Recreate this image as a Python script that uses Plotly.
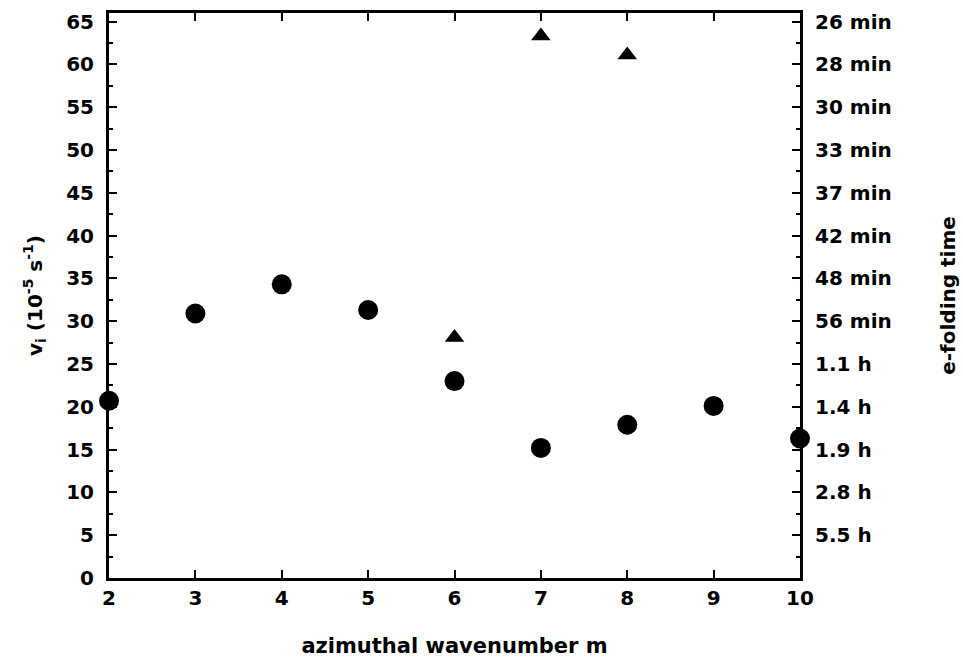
import plotly.graph_objects as go

m_circle = [2, 3, 4, 5, 6, 7, 8, 9, 10]
v_circle = [20.7, 30.9, 34.3, 31.3, 23.0, 15.2, 17.9, 20.1, 16.3]
m_tri = [6, 7, 8]
v_tri = [28.1, 63.3, 61.1]

left_ticks = list(range(0, 70, 5))
right_tickvals = [65, 60, 55, 50, 45, 40, 35, 30, 25, 20, 15, 10, 5]
right_ticktext = ["26 min", "28 min", "30 min", "33 min", "37 min", "42 min", "48 min",
                  "56 min", "1.1 h", "1.4 h", "1.9 h", "2.8 h", "5.5 h"]
x_ticks = list(range(2, 11))

FONT = "DejaVu Sans"
fig = go.Figure()
fig.add_trace(go.Scatter(x=m_circle, y=v_circle, mode="markers",
                         marker=dict(symbol="circle", size=20, color="black"),
                         cliponaxis=False, showlegend=False))
fig.add_trace(go.Scatter(x=m_tri, y=v_tri, mode="markers",
                         marker=dict(symbol="triangle-up", size=17, color="black"),
                         cliponaxis=False, showlegend=False))
fig.add_trace(go.Scatter(x=[None], y=[None], yaxis="y2", showlegend=False, hoverinfo="skip"))

axis_common = dict(showgrid=False, zeroline=False, showline=True, linecolor="black",
                   linewidth=3, ticks="inside", tickcolor="black", tickwidth=2,
                   automargin=False,
                   tickfont=dict(family=FONT, size=20, color="black", weight="bold"))

title_font = dict(family=FONT, size=20, color="black")

fig.update_layout(
    width=963, height=659,
    margin=dict(l=109, r=163, t=13, b=81),
    plot_bgcolor="white", paper_bgcolor="white",
    font=dict(family=FONT, color="black"),
    xaxis=dict(range=[2, 10], tickvals=x_ticks, ticklen=8, mirror="ticks",
               title=dict(text="<b>azimuthal wavenumber m</b>", font=dict(family=FONT, size=21, color="black"), standoff=30),
               **axis_common),
    yaxis=dict(range=[0, 66], tickvals=left_ticks, ticklen=8, ticklabelstandoff=8,
               minor=dict(ticks="inside", dtick=2.5, ticklen=4, tickcolor="black", tickwidth=2),
               title=dict(text="<b>v<sub>i</sub> (10<sup>-5</sup> s<sup>-1</sup>)</b>", font=title_font, standoff=19),
               **axis_common),
    yaxis2=dict(range=[0, 66], overlaying="y", side="right", tickvals=right_tickvals,
                ticktext=right_ticktext, ticklen=8, ticklabelstandoff=8,
                minor=dict(ticks="inside", dtick=2.5, ticklen=4, tickcolor="black", tickwidth=2),
                title=dict(text="<b>e-folding time</b>", font=title_font, standoff=51),
                **axis_common),
)

fig.write_html("out.html")
